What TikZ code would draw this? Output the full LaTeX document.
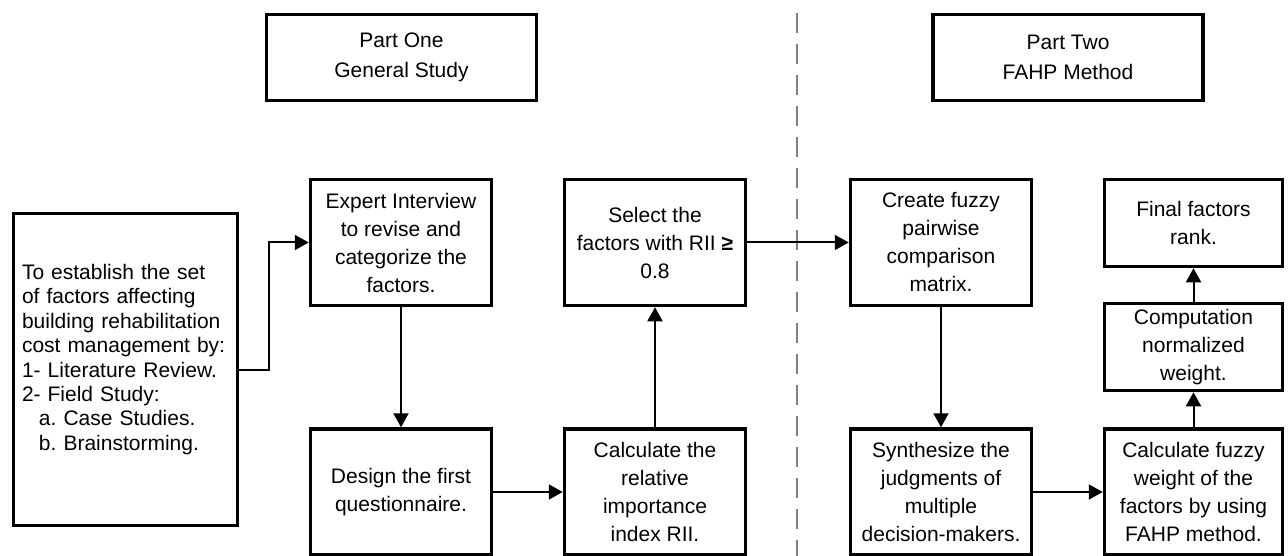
\documentclass[tikz,border=0pt]{standalone}
\usepackage{fontspec}
\setmainfont{Liberation Sans}
\usetikzlibrary{arrows.meta}
\frenchspacing
\newcommand\boxfont{\fontsize{21}{28}\selectfont}
\tikzset{
   stepbox/.style={draw, line width=3.5pt, inner sep=3pt, align=center, font=\boxfont,
      minimum width=181pt, minimum height=126pt},
   partbox/.style={stepbox, minimum width=270pt, minimum height=86pt,
      font=\fontsize{21}{29.5}\selectfont},
   smallbox/.style={stepbox, minimum width=178pt, minimum height=87pt},
   flow/.style={-{Triangle[length=14pt,width=15pt]}, line width=2pt},
}
\begin{document}
\begin{tikzpicture}[x=1pt, y=-1pt]
   \useasboundingbox (0,0) rectangle (1288,556);
   \node[partbox] (partone) at (401.5,57.5) {Part One\\General Study};
   \node[partbox] (parttwo) at (1068,57.5) {Part Two\\FAHP Method};
   \coordinate (divtop) at (797,13);
   \coordinate (divbot) at (797,556);
   \draw[gray, line width=2pt, dash pattern=on 20pt off 11pt] (divtop) -- (divbot);
   \node[stepbox, minimum width=224pt, minimum height=312pt, text width=207pt, align=left,
      font=\fontsize{21}{24.4}\selectfont] (intro) at (125.5,369.5)
      {To establish the set\\of factors affecting\\building rehabilitation\\cost management by:\\
       1- Literature Review.\\2- Field Study:\\\hspace*{17pt}a. Case Studies.\\
       \hspace*{17pt}b. Brainstorming.\\\mbox{}};
   \node[stepbox] (expert) at (401,242.5) {Expert Interview\\to revise and\\categorize the\\factors.};
   \node[stepbox] (design) at (401,492) {Design the first\\questionnaire.};
   \node[stepbox] (calc) at (655,492) {Calculate the\\relative\\importance\\index RII.};
   \node[stepbox] (select) at (655,242.5) {Select the\\factors with RII {\bfseries ≥}\\0.8};
   \node[stepbox] (create) at (941,242.5) {Create fuzzy\\pairwise\\comparison\\matrix.};
   \node[stepbox] (synth) at (941,492) {Synthesize the\\judgments of\\multiple\\decision-makers.};
   \node[stepbox, minimum width=178pt] (fuzzy) at (1193.5,492) {Calculate fuzzy\\weight of the\\factors by using\\FAHP method.};
   \node[smallbox] (comp) at (1193.5,347) {Computation\\normalized\\weight.};
   \node[smallbox] (final) at (1193.5,223) {Final factors\\rank.};
   \draw[flow] (intro.east) -- ++(30,0) |- (expert.west);
   \draw[flow] (expert) -- (design);
   \draw[flow] (design) -- (calc);
   \draw[flow] (calc) -- (select);
   \draw[flow] (select) -- (create);
   \draw[flow] (create) -- (synth);
   \draw[flow] (synth) -- (fuzzy);
   \draw[flow] (fuzzy) -- (comp);
   \draw[flow] (comp) -- (final);
\end{tikzpicture}
\end{document}
